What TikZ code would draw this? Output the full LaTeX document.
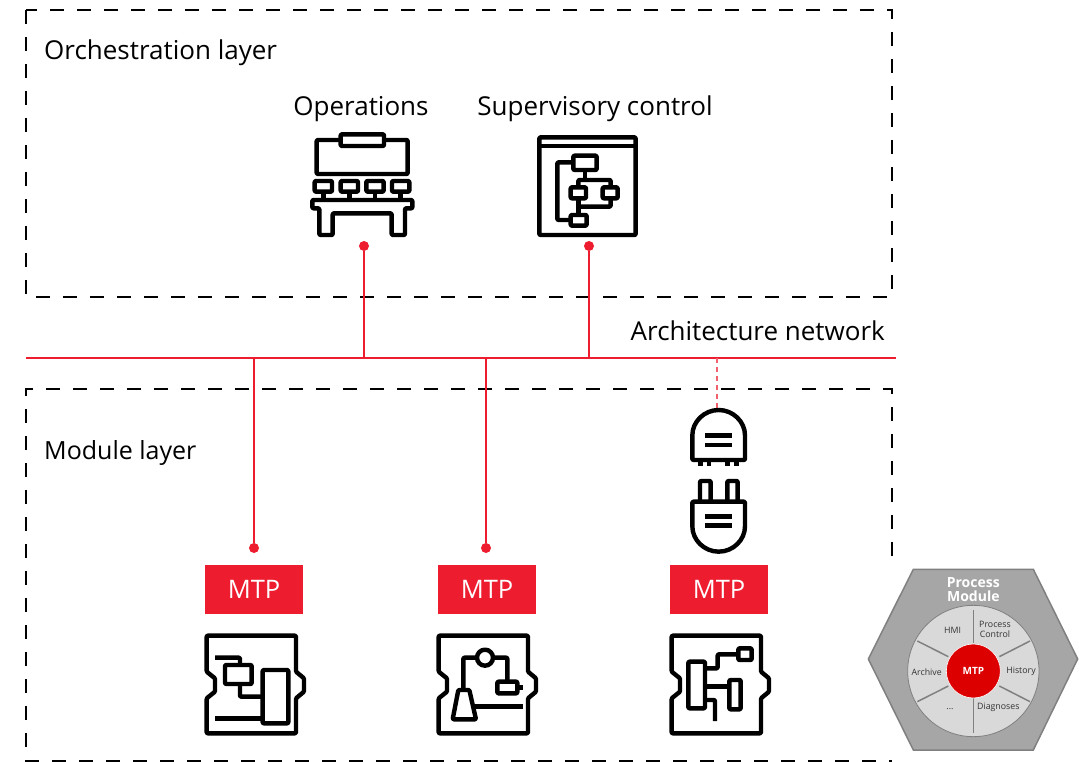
\documentclass[tikz,border=0pt]{standalone}
\usepackage{fontspec}
\setmainfont{Open Sans}
\definecolor{abbred}{HTML}{ED1C2E}
\definecolor{hexfill}{HTML}{A6A6A6}
\definecolor{hexline}{HTML}{808080}
\definecolor{wheel}{HTML}{D9D9D9}
\definecolor{mtpcore}{HTML}{DC0000}
\definecolor{wheeltext}{HTML}{333333}
\tikzset{
  x=1pt,y=-1pt,
  layerbox/.style={black,line width=1.8pt,dash pattern=on 14pt off 13pt},
  lbl/.style={inner sep=0pt,font=\fontsize{26}{30}\selectfont},
  icon/.style={black,line width=4.4pt,rounded corners=1pt,line join=round},
  bus/.style={abbred,line width=2pt},
  tapdash/.style={abbred!70,line width=1.6pt,dash pattern=on 5pt off 4pt},
  dotmark/.style={circle,fill=abbred,inner sep=0pt,minimum size=10pt},
  mtpbox/.style={fill=abbred,text=white,minimum width=98pt,minimum height=49pt,inner sep=0pt,font=\fontsize{25.5}{30}\selectfont},
  spoke/.style={hexline,line width=1.5pt},
  small/.style={inner sep=0pt,text=wheeltext,align=center,font=\fontsize{8.8}{9.8}\selectfont},
  zoomed/.style={x=0.33333pt,y=-0.33333pt},
}
\begin{document}
\begin{tikzpicture}
\useasboundingbox (0,0) rectangle (1079,762);
% layer boxes
\draw[layerbox] (26,10) rectangle (892,297);
\draw[layerbox] (892,556) -- (892,389) -- (26,389) -- (26,761) -- (892,761);
% labels
\node[lbl,anchor=west] (orch) at (44,53) {Orchestration layer};
\node[lbl] (ops) at (361,109) {Operations};
\node[lbl] (sup) at (595,109) {Supervisory control};
\node[lbl,anchor=east] (arch) at (885,331) {Architecture network};
\node[lbl,anchor=west,font=\fontsize{25}{30}\selectfont] (mod) at (44,453) {Module layer};
% bus and connectors
\coordinate (busL) at (26,358);
\coordinate (busR) at (896,358);
\coordinate (t1) at (364,358);
\coordinate (t2) at (589,358);
\coordinate (t3) at (254,358);
\coordinate (t4) at (486,358);
\coordinate (t5) at (717,358);
\coordinate (t5e) at (717,410);
\node[dotmark] (d1) at (364,246) {};
\node[dotmark] (d2) at (589,246) {};
\node[dotmark] (d3) at (254,548) {};
\node[dotmark] (d4) at (486,548) {};
\draw[bus] (busL) -- (busR);
\draw[bus] (t1) -- (d1);
\draw[bus] (t2) -- (d2);
\draw[bus] (t3) -- (d3);
\draw[bus] (t4) -- (d4);
\draw[tapdash] (t5) -- (t5e);
% MTP boxes
\node[mtpbox] (m1) at (254,589) {MTP};
\node[mtpbox] (m2) at (487,589) {MTP};
\node[mtpbox] (m3) at (719,589) {MTP};
% Operations icon
\begin{scope}[shift={(280,120)},zoomed]
\draw[icon] (110,60) rectangle (383,162);
\draw[icon,fill=white] (182,43) rectangle (312,78);
\foreach \c in {130,208,285,362}{
  \draw[icon] (\c-26,183) rectangle (\c+26,215);
  \draw[icon] (\c,215) -- (\c,240);
}
\draw[icon] (97,240) -- (397,240) -- (397,265) -- (375,265) -- (375,345) -- (335,345) -- (335,280) -- (158,280) -- (158,345) -- (118,345) -- (118,265) -- (97,265) -- cycle;
\end{scope}
% Supervisory icon
\begin{scope}[shift={(280,120)},zoomed]
\draw[icon] (778,52) rectangle (1067,345);
\draw[icon] (778,78) -- (1067,78);
\draw[icon] (880,107) rectangle (950,150);
\draw[icon] (880,127) -- (832,127) -- (832,300) -- (872,300);
\draw[icon] (872,285) rectangle (920,317);
\draw[icon] (872,202) rectangle (918,235);
\draw[icon] (968,202) rectangle (1013,235);
\draw[icon] (915,150) -- (915,180);
\draw[icon] (895,202) -- (895,180) -- (992,180) -- (992,202);
\draw[icon] (895,235) -- (895,285);
\draw[icon] (992,235) -- (992,260) -- (895,260);
\end{scope}
% socket and plug
\begin{scope}[shift={(640,380)},zoomed]
\draw[icon] (157,240) -- (157,169) arc[start angle=180,end angle=360,radius=79] -- (315,240) -- cycle;
\draw[icon,rounded corners=0pt] (195,167) -- (275,167) (195,195) -- (275,195);
\draw[icon,rounded corners=0pt] (182,240) -- (182,258) (207,240) -- (207,258) (262,240) -- (262,258) (290,240) -- (290,258);
\draw[icon] (180,365) -- (180,303) -- (212,303) -- (212,365);
\draw[icon] (262,365) -- (262,303) -- (293,303) -- (293,365);
\draw[icon] (157,365) -- (157,436) arc[start angle=180,end angle=0,radius=79] -- (315,365) -- cycle;
\draw[icon,rounded corners=0pt] (195,409) -- (275,409) (195,437) -- (275,437);
\end{scope}
% module outlines
\foreach \dx in {0,232,465}{
\begin{scope}[shift={(190+\dx,620)},zoomed]
\draw[icon] (50,47) -- (318,47) -- (318,155) -- (342,175) -- (342,215) -- (318,235) -- (318,340) -- (50,340) -- (50,235) -- (75,215) -- (75,175) -- (50,155) -- cycle;
\end{scope}}
% module 1 contents
\begin{scope}[shift={(190,620)},zoomed]
\draw[icon] (75,113) -- (150,113) -- (150,135);
\draw[icon] (105,135) rectangle (185,192);
\draw[icon] (150,192) -- (150,230) -- (218,230);
\draw[icon] (218,150) rectangle (295,310);
\draw[icon] (75,295) -- (218,295);
\end{scope}
% module 2 contents
\begin{scope}[shift={(190,620)},zoomed]
\draw[icon] (885,113) circle[radius=24];
\draw[icon] (861,113) -- (820,113) -- (820,210);
\draw[icon] (909,113) -- (952,113) -- (952,185);
\draw[icon] (922,185) rectangle (982,220);
\draw[icon] (982,202) -- (1000,202);
\draw[icon] (805,210) -- (838,210) -- (858,298) -- (788,298) -- cycle;
\draw[icon] (850,260) -- (1000,260);
\end{scope}
% module 3 contents
\begin{scope}[shift={(650,620)},zoomed]
\draw[icon] (115,125) rectangle (165,265);
\draw[icon] (165,145) -- (203,145) -- (203,103) -- (265,103);
\draw[icon] (265,85) rectangle (305,120);
\draw[icon] (165,200) -- (238,200);
\draw[icon] (238,180) rectangle (272,268);
\draw[icon] (165,240) -- (195,240) -- (195,303);
\end{scope}
% process module hexagon
\begin{scope}[shift={(860,560)},zoomed]
\draw[fill=hexfill,draw=hexline,line width=1.5pt] (160,28) -- (520,28) -- (653,297) -- (520,570) -- (160,570) -- (25,297) -- cycle;
\draw[fill=wheel,draw=hexline,line width=.8pt] (340,333) circle[radius=197];
\draw[spoke] (340,150) -- (340,250);
\draw[spoke] (340,415) -- (340,520);
\draw[spoke] (172,243) -- (265,290);
\draw[spoke] (510,243) -- (418,290);
\draw[spoke] (172,425) -- (265,378);
\draw[spoke] (510,425) -- (418,378);
\node[circle,fill=mtpcore,draw=white,line width=.6pt,minimum size=54pt,inner sep=0pt,text=white,font=\bfseries\fontsize{10}{11}\selectfont] (core) at (340,333) {MTP};
\node[inner sep=0pt,text=white,align=center,font=\bfseries\fontsize{14}{14}\selectfont] (pm) at (340,89) {Process\\Module};
\node[small] (hmi) at (278,210) {HMI};
\node[small] (pc) at (405,208) {Process\\Control};
\node[small] (archv) at (200,338) {Archive};
\node[small] (hist) at (483,335) {History};
\node[small] (diag) at (415,442) {Diagnoses};
\node[small] (dots) at (270,448) {...};
\end{scope}
\end{tikzpicture}
\end{document}
